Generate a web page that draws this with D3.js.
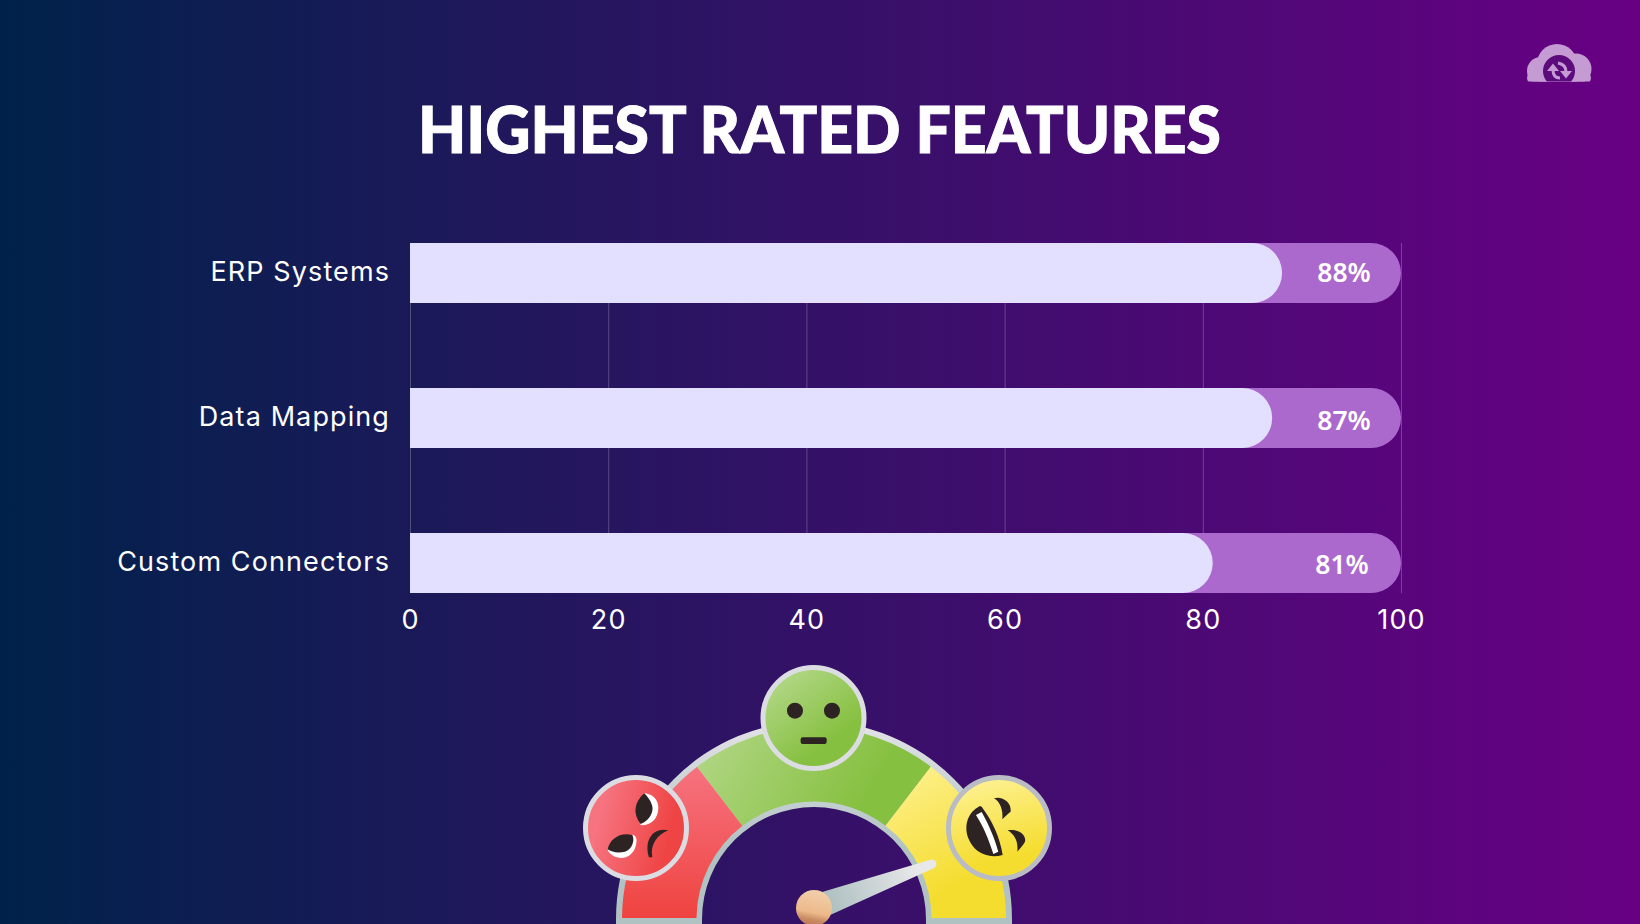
<!DOCTYPE html>
<html><head><meta charset="utf-8">
<script src="https://cdn.jsdelivr.net/npm/d3@7/dist/d3.min.js"></script>
<style>html,body{margin:0;padding:0;overflow:hidden;background:#2f1460}svg{display:block}</style>
</head><body><svg id="c" width="1640" height="924" viewBox="0 0 1640 924"></svg>
<script>
const categories = ["ERP Systems","Data Mapping","Custom Connectors"];
const ratings = [88,87,81];
const axisMax = 100;
const axisTicks = [0,20,40,60,80,100];
const titleText = "HIGHEST RATED FEATURES";
const gaugeSegments = ["Angry","Neutral","Happy"];

const svg = d3.select("#c");
const defs = svg.append("defs");
function grad(id,x1,y1,x2,y2,stops){
  const g = defs.append("linearGradient").attr("id",id).attr("x1",x1).attr("y1",y1).attr("x2",x2).attr("y2",y2);
  stops.forEach(s=>g.append("stop").attr("offset",s[0]).attr("stop-color",s[1]));
}
grad("bg",0,0,1,0,[[0,"#00224a"],[1,"#680084"]]);
grad("gRed",0,0,0,1,[[0,"#f6737f"],[1,"#ef4340"]]);
grad("gGreen",0,0,1,.25,[[.1,"#aed580"],[.85,"#86c040"]]);
grad("gYellow",.2,0,.6,1,[[0,"#fdf08c"],[.8,"#f5dd30"]]);
grad("fRed",0,.3,1,.55,[[.15,"#f6737f"],[.85,"#ef4444"]]);
grad("fGreen",.15,.05,.8,.9,[[.1,"#aed580"],[.8,"#86c040"]]);
grad("fYellow",.35,0,.6,1,[[.05,"#fdf08c"],[.8,"#f5dd30"]]);
grad("rim",0,1,0,0,[[.35,"#b0c2c2"],[1,"#e4e3e8"]]);
grad("needle",0,.6,1,.4,[[.1,"#adbfc0"],[.9,"#e8e8ea"]]);
grad("ball",.2,0,0,1,[[0,"#f1cda8"],[.55,"#ecb98a"],[.75,"#c98a62"],[1,"#b87350"]]);

svg.append("rect").attr("width",1640).attr("height",924).attr("fill","url(#bg)");

// title
svg.append("text").text(titleText).attr("x",418).attr("y",153)
  .attr("textLength",803).attr("lengthAdjust","spacingAndGlyphs")
  .style("font-family","Lato").style("font-weight",900).style("font-size","64px")
  .attr("fill","#fff").attr("stroke","#fff").attr("stroke-width",1);

// scales
const x = d3.scaleLinear().domain([0,axisMax]).range([410,1401]);
const y = d3.scaleBand().domain(categories).range([200.5,635.5]).paddingInner(.5862).paddingOuter(.2931);

// grid
svg.append("g").selectAll("line").data(axisTicks).join("line")
  .attr("x1",d=>x(d)+.5).attr("x2",d=>x(d)+.5)
  .attr("y1",y.range()[0]+42.5).attr("y2",y.range()[1]-42.5)
  .attr("stroke","#fff").attr("stroke-opacity",.23).attr("stroke-width",1);

function roundBar(x0,x1,y0,h){
  const r=h/2, p=d3.path();
  p.moveTo(x0,y0); p.lineTo(x1-r,y0); p.arc(x1-r,y0+r,r,-Math.PI/2,Math.PI/2); p.lineTo(x0,y0+h); p.closePath();
  return p.toString();
}
svg.append("g").selectAll("path").data(categories).join("path")
  .attr("d",c=>roundBar(x(0),x(axisMax),y(c),y.bandwidth())).attr("fill","#ab69cd");
svg.append("g").selectAll("path").data(categories).join("path")
  .attr("d",(c,i)=>roundBar(x(0),x(ratings[i]),y(c),y.bandwidth())).attr("fill","#e3dfff");

// value labels
const labelDy=[-1.5,1.5,1];
svg.append("g").selectAll("text").data(categories).join("text")
  .text((c,i)=>ratings[i]+"%")
  .attr("x",(c,i)=>i==2?1342:1344).attr("y",(c,i)=>y(c)+y.bandwidth()/2+10+labelDy[i])
  .attr("text-anchor","middle").attr("fill","#fff")
  .style("font-family","Noto Sans").style("font-weight",600).style("font-size","26.5px");

// axes
const fmt = {fam:"Inter",size:"27px",sp:"1.1px"};
const ax = svg.append("g").attr("transform",`translate(0,${y.range()[1]-42.5})`)
  .call(d3.axisBottom(x).tickValues(axisTicks).tickSize(0).tickPadding(17));
ax.select(".domain").remove();
ax.selectAll("text").style("font-family",fmt.fam).style("font-size",fmt.size).style("letter-spacing",fmt.sp).attr("fill","#fff").attr("dy","0.71em");
const ay = svg.append("g").attr("transform",`translate(${x(0)},0)`)
  .call(d3.axisLeft(y).tickSize(0).tickPadding(20));
ay.select(".domain").remove();
ay.selectAll("text").style("font-family",fmt.fam).style("font-size",fmt.size).style("letter-spacing",fmt.sp).attr("fill","#fff").attr("dy","0.3em");

// gauge
const cx=814, cy=919;
const gauge = svg.append("g").attr("transform",`translate(${cx},${cy})`);
const deg=Math.PI/180;
const bounds=[-90,-37.5,37.5,90];
gauge.append("path").attr("d",d3.arc()({innerRadius:112,outerRadius:198,startAngle:-Math.PI/2,endAngle:Math.PI/2}))
  .attr("fill","url(#rim)");
gauge.append("rect").attr("x",-198).attr("width",86).attr("y",0).attr("height",6).attr("fill","#b0c2c2");
gauge.append("rect").attr("x",112).attr("width",86).attr("y",0).attr("height",6).attr("fill","#b0c2c2");
const segFill=["url(#gRed)","url(#gGreen)","url(#gYellow)"];
defs.append("clipPath").attr("id","segclip").append("rect").attr("x",-300).attr("y",-300).attr("width",600).attr("height",299);
gauge.append("g").attr("clip-path","url(#segclip)").selectAll("path").data(gaugeSegments).join("path")
  .attr("d",(d,i)=>d3.arc()({innerRadius:117.5,outerRadius:192,startAngle:bounds[i]*deg,endAngle:bounds[i+1]*deg}))
  .attr("fill",(d,i)=>segFill[i]);

// needle
const tip=[932,864], base=[814,908];
const nd=[tip[0]-base[0],tip[1]-base[1]], nl=Math.hypot(nd[0],nd[1]), n=[-nd[1]/nl,nd[0]/nl];
const needle=d3.path();
needle.moveTo(base[0]+n[0]*13,base[1]+n[1]*13);
needle.lineTo(tip[0]+n[0]*4.5,tip[1]+n[1]*4.5);
needle.arc(tip[0],tip[1],4.5,Math.atan2(n[1],n[0]),Math.atan2(-n[1],-n[0]),true);
needle.lineTo(base[0]-n[0]*13,base[1]-n[1]*13);
needle.closePath();
svg.append("path").attr("d",needle.toString()).attr("fill","url(#needle)");
svg.append("circle").attr("cx",base[0]).attr("cy",base[1]).attr("r",18).attr("fill","url(#ball)");

// faces
const ink="#2d2323";
function face(px,py,fill,rim){
  svg.append("circle").attr("cx",px).attr("cy",py).attr("r",50.5).attr("fill",fill).attr("stroke",rim).attr("stroke-width",5);
}
face(636,828,"url(#fRed)","#dcdde3");
face(813.5,718,"url(#fGreen)","#dcdde3");
face(999,828,"url(#fYellow)","#b9bcc4");

const redF=svg.append("g").attr("transform","translate(575,770) scale(.3333)");
redF.append("path").attr("fill","#fff").attr("d","M208,70C246,74 254,105 249,125C244,154 218,168 197,165C190,140 185,100 208,70Z");
redF.append("path").attr("fill",ink).attr("d","M208,70C178,95 172,132 197,162C228,150 238,120 230,103C226,90 216,78 208,70Z");
redF.append("path").attr("fill","#fff").attr("d","M98,240C112,270 170,278 183,225C188,205 182,196 172,194L120,205Z");
redF.append("path").attr("fill",ink).attr("d","M98,238C105,206 135,186 172,195C180,210 172,238 150,245C130,250 110,247 98,238Z");
redF.append("path").attr("fill",ink).attr("d","M280,181C240,170 205,205 222,262L232,262C225,225 245,195 280,181Z");

const greenF=svg.append("g").attr("transform","translate(560,650) scale(.3333)");
greenF.append("circle").attr("cx",705).attr("cy",182).attr("r",24).attr("fill",ink);
greenF.append("circle").attr("cx",816).attr("cy",182).attr("r",24).attr("fill",ink);
greenF.append("rect").attr("x",722).attr("y",262).attr("width",78).attr("height",20).attr("rx",6).attr("fill",ink);

const yelF=svg.append("g").attr("transform","translate(940,770) scale(.3333)");
yelF.append("path").attr("fill",ink).attr("d","M120,108C85,125 70,165 85,205C100,245 140,268 188,255C180,200 155,150 125,110Z");
yelF.append("path").attr("fill","#fff").attr("d","M108,135L125,126C150,170 165,210 175,245L160,252C145,205 130,170 108,135Z");
yelF.append("path").attr("fill",ink).attr("d","M162,85C185,78 215,95 212,125C205,130 195,140 187,148C190,120 180,95 162,85Z");
yelF.append("path").attr("fill",ink).attr("d","M203,181C235,175 260,195 255,215C250,225 240,235 232,245C235,215 225,195 203,181Z");

// logo
defs.append("clipPath").attr("id","logoClip").append("rect").attr("x",1500).attr("y",30).attr("width",110).attr("height",51.5);
const logo=svg.append("g").attr("clip-path","url(#logoClip)");
const la="#c49bd3";
[[1541,71,14],[1557,64,20],[1576,69,15.5],[1558,76,20]].forEach(c=>logo.append("circle").attr("cx",c[0]).attr("cy",c[1]).attr("r",c[2]).attr("fill",la));
logo.append("rect").attr("x",1527).attr("y",72).attr("width",64).attr("height",12).attr("rx",6).attr("fill",la);
logo.append("circle").attr("cx",1559).attr("cy",71).attr("r",16).attr("fill","#5c0a7c");
logo.append("path").attr("fill","none").attr("stroke",la).attr("stroke-width",3).attr("d","M1553,70C1553,75 1555,78 1560,78");
logo.append("path").attr("fill","none").attr("stroke",la).attr("stroke-width",3).attr("d","M1566,72C1566,67 1564,64 1558,63");
logo.append("path").attr("fill",la).attr("d","M1547,71L1553,63.5L1559,71Z");
logo.append("path").attr("fill",la).attr("d","M1560,71L1566,78.5L1572,71Z");
</script></body></html>
